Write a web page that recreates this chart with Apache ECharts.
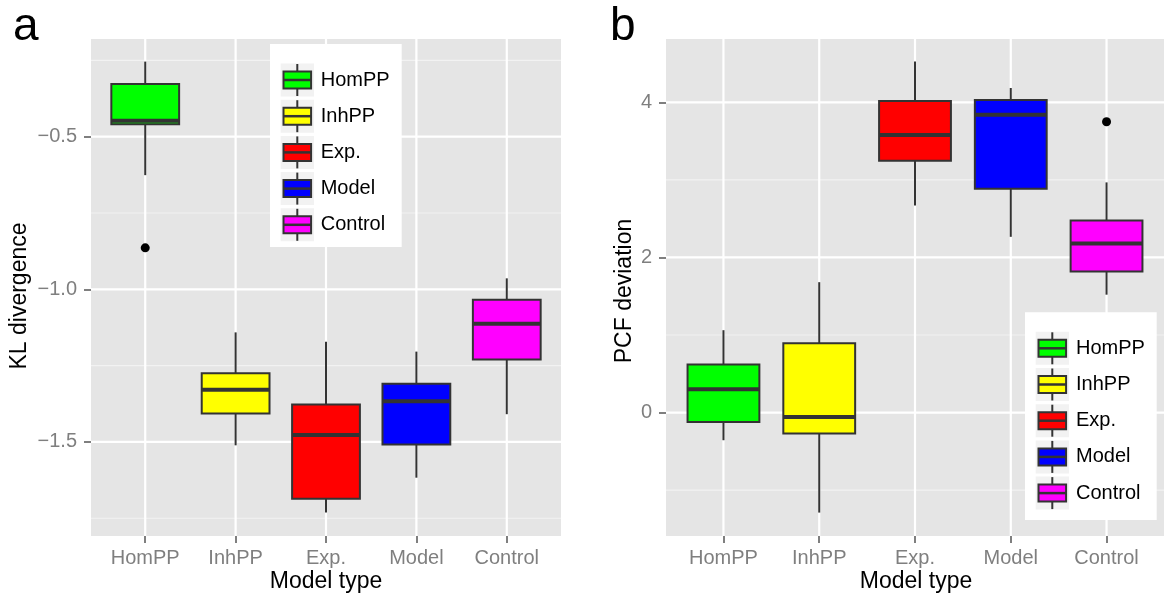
<!DOCTYPE html>
<html>
<head>
<meta charset="utf-8">
<script src="https://cdn.jsdelivr.net/npm/echarts@6/dist/echarts.min.js"></script>
<style>
  html, body { margin: 0; padding: 0; background: #ffffff; }
  #chart { width: 1164px; height: 599px; }
</style>
</head>
<body>
<div id="chart"></div>
<script>
// ---- data ----
const categories = ['HomPP', 'InhPP', 'Exp.', 'Model', 'Control'];
const fillColors = ['#00ff00', '#ffff00', '#ff0000', '#0000ff', '#ff00ff'];

// Box statistics per model type: [lower whisker, Q1, median, Q3, upper whisker]
const klStats = [
  [-0.626, -0.459, -0.448, -0.327, -0.254],
  [-1.511, -1.407, -1.329, -1.275, -1.141],
  [-1.731, -1.686, -1.477, -1.377, -1.172],
  [-1.617, -1.508, -1.367, -1.309, -1.204],
  [-1.409, -1.230, -1.113, -1.034, -0.964]
];
const klOutliers = [['HomPP', -0.864]];

const pcfStats = [
  [-0.357, -0.121, 0.301, 0.619, 1.062],
  [-1.290, -0.271, -0.057, 0.894, 1.681],
  [2.671, 3.246, 3.578, 4.017, 4.528],
  [2.266, 2.885, 3.840, 4.030, 4.185],
  [1.520, 1.819, 2.181, 2.477, 2.968]
];
const pcfOutliers = [['Control', 3.75]];

const klMajorTicks = [-1.5, -1.0, -0.5];
const klMinorTicks = [-1.75, -1.25, -0.75, -0.25];
const klRange = [-1.808, -0.18];

const pcfMajorTicks = [0, 2, 4];
const pcfMinorTicks = [-1, 1, 3];
const pcfRange = [-1.592, 4.817];

const categoryPositions = categories.map((c, i) => i + 1);

// ---- styling ----
const FONT = "'Liberation Sans', Arial, Helvetica, sans-serif";
const PANEL_BG = '#e5e5e5';
const TICK_GREY = '#7f7f7f';
const DARK = '#333333';
const BOX_WIDTH = 0.75;

const chart = echarts.init(document.getElementById('chart'), null, { renderer: 'canvas' });

function minusFormat(v) {
  const s = Math.abs(v).toFixed(1);
  return v < 0 ? '\u2212' + s : s;
}

function xAxisFor(gridIndex) {
  return {
    type: 'value', gridIndex: gridIndex, min: 0.4, max: 5.6,
    axisLine: { show: false, onZero: false },
    axisTick: { show: true, length: 7, customValues: categoryPositions,
                lineStyle: { color: TICK_GREY, width: 2 } },
    axisLabel: { show: true, customValues: categoryPositions, margin: 12,
                 color: TICK_GREY, fontSize: 20, fontFamily: FONT,
                 formatter: v => categories[Math.round(v) - 1] },
    splitLine: { show: false }
  };
}

function yAxisFor(gridIndex, range, ticks, fmt) {
  return {
    type: 'value', gridIndex: gridIndex, min: range[0], max: range[1],
    axisLine: { show: false, onZero: false },
    axisTick: { show: true, length: 7, customValues: ticks,
                lineStyle: { color: TICK_GREY, width: 2 } },
    axisLabel: { show: true, customValues: ticks, margin: 14,
                 color: TICK_GREY, fontSize: 20, fontFamily: FONT,
                 formatter: fmt },
    splitLine: { show: false }
  };
}

// White panel grid lines (major / minor) drawn in data coordinates
function gridLineSeries(idx, majorY, minorY) {
  const data = [];
  majorY.forEach(v => data.push([0, v, 2.2]));
  minorY.forEach(v => data.push([0, v, 1.1]));
  categoryPositions.forEach(v => data.push([1, v, 2.2]));
  return {
    type: 'custom', xAxisIndex: idx, yAxisIndex: idx, z: 1, silent: true,
    data: data,
    renderItem: function (params, api) {
      const cs = params.coordSys;
      const vertical = api.value(0) === 1;
      const w = api.value(2);
      let shape;
      if (vertical) {
        const x = api.coord([api.value(1), 0])[0];
        shape = { x1: x, y1: cs.y, x2: x, y2: cs.y + cs.height };
      } else {
        const y = api.coord([1, api.value(1)])[1];
        shape = { x1: cs.x, y1: y, x2: cs.x + cs.width, y2: y };
      }
      return {
        type: 'line', shape: shape,
        style: { stroke: w > 2 ? '#ffffff' : '#f2f2f2', lineWidth: w }
      };
    }
  };
}

function boxSeries(idx, stats) {
  return {
    type: 'custom', xAxisIndex: idx, yAxisIndex: idx, z: 2,
    data: stats.map((s, i) => [categoryPositions[i]].concat(s)),
    renderItem: function (params, api) {
      const x = api.value(0);
      const pLo = api.coord([x, api.value(1)]);
      const pQ1 = api.coord([x, api.value(2)]);
      const pMed = api.coord([x, api.value(3)]);
      const pQ3 = api.coord([x, api.value(4)]);
      const pHi = api.coord([x, api.value(5)]);
      const half = api.size([BOX_WIDTH, 0])[0] / 2;
      const cx = pMed[0];
      return {
        type: 'group',
        children: [
          { type: 'line', shape: { x1: cx, y1: pHi[1], x2: cx, y2: pQ3[1] },
            style: { stroke: DARK, lineWidth: 2 } },
          { type: 'line', shape: { x1: cx, y1: pQ1[1], x2: cx, y2: pLo[1] },
            style: { stroke: DARK, lineWidth: 2 } },
          { type: 'rect', shape: { x: cx - half, y: pQ3[1], width: half * 2, height: pQ1[1] - pQ3[1] },
            style: { fill: fillColors[params.dataIndex], stroke: DARK, lineWidth: 2 } },
          { type: 'line', shape: { x1: cx - half, y1: pMed[1], x2: cx + half, y2: pMed[1] },
            style: { stroke: DARK, lineWidth: 4 } }
        ]
      };
    }
  };
}

function outlierSeries(idx, pts) {
  return {
    type: 'scatter', xAxisIndex: idx, yAxisIndex: idx, z: 3,
    symbol: 'circle', symbolSize: 9,
    itemStyle: { color: '#000000', opacity: 1 },
    data: pts.map(p => [categories.indexOf(p[0]) + 1, p[1]])
  };
}

// ggplot-style legend with boxplot keys
function legendGraphics(box, keyX, textX, firstRow, rowStep) {
  const els = [{
    type: 'rect', z: 50,
    shape: { x: box[0], y: box[1], width: box[2], height: box[3] },
    style: { fill: '#ffffff' }
  }];
  categories.forEach((name, i) => {
    const cy = firstRow + i * rowStep;
    els.push(
      { type: 'rect', z: 51, shape: { x: keyX, y: cy - 16.5, width: 33.3, height: 33 },
        style: { fill: '#f2f2f2' } },
      { type: 'line', z: 52, shape: { x1: keyX + 16.6, y1: cy - 16, x2: keyX + 16.6, y2: cy + 16 },
        style: { stroke: DARK, lineWidth: 2 } },
      { type: 'rect', z: 53, shape: { x: keyX + 2.8, y: cy - 8.5, width: 27.6, height: 17 },
        style: { fill: fillColors[i], stroke: DARK, lineWidth: 2 } },
      { type: 'line', z: 54, shape: { x1: keyX + 2.8, y1: cy, x2: keyX + 30.4, y2: cy },
        style: { stroke: DARK, lineWidth: 2.5 } },
      { type: 'text', x: textX, y: cy, z: 55,
        style: { text: name, fill: '#000000', font: '20px ' + FONT, align: 'left', verticalAlign: 'middle' } }
    );
  });
  return els;
}

function titleText(text, x, y, rotate, size) {
  return {
    type: 'text', x: x, y: y, rotation: rotate ? Math.PI / 2 : 0, z: 60,
    style: { text: text, fill: '#000000', font: size + 'px ' + FONT, align: 'center', verticalAlign: 'middle' }
  };
}

const option = {
  animation: false,
  backgroundColor: '#ffffff',
  grid: [
    { left: 91, top: 39, width: 470, height: 497, show: true, backgroundColor: PANEL_BG, borderWidth: 0 },
    { left: 666, top: 39, width: 500, height: 497, show: true, backgroundColor: PANEL_BG, borderWidth: 0 }
  ],
  xAxis: [xAxisFor(0), xAxisFor(1)],
  yAxis: [
    yAxisFor(0, klRange, klMajorTicks, minusFormat),
    yAxisFor(1, pcfRange, pcfMajorTicks, v => String(Math.round(v)))
  ],
  series: [
    gridLineSeries(0, klMajorTicks, klMinorTicks),
    boxSeries(0, klStats),
    outlierSeries(0, klOutliers),
    gridLineSeries(1, pcfMajorTicks, pcfMinorTicks),
    boxSeries(1, pcfStats),
    outlierSeries(1, pcfOutliers)
  ],
  graphic: [].concat(
    legendGraphics([270, 44, 131.7, 203], 280.7, 320.7, 80, 36.2),
    legendGraphics([1025, 312.3, 131.7, 207.7], 1035.7, 1076, 348.3, 36.2),
    [
      { type: 'text', x: 13, y: 27, z: 60, style: { text: 'a', fill: '#000', font: '46px ' + FONT, verticalAlign: 'middle' } },
      { type: 'text', x: 610, y: 27, z: 60, style: { text: 'b', fill: '#000', font: '46px ' + FONT, verticalAlign: 'middle' } },
      titleText('Model type', 326, 581.5, false, 23),
      titleText('Model type', 916, 581.5, false, 23),
      titleText('KL divergence', 19.5, 296, true, 23),
      titleText('PCF deviation', 624.5, 291, true, 23)
    ]
  )
};

chart.setOption(option);
</script>
</body>
</html>
